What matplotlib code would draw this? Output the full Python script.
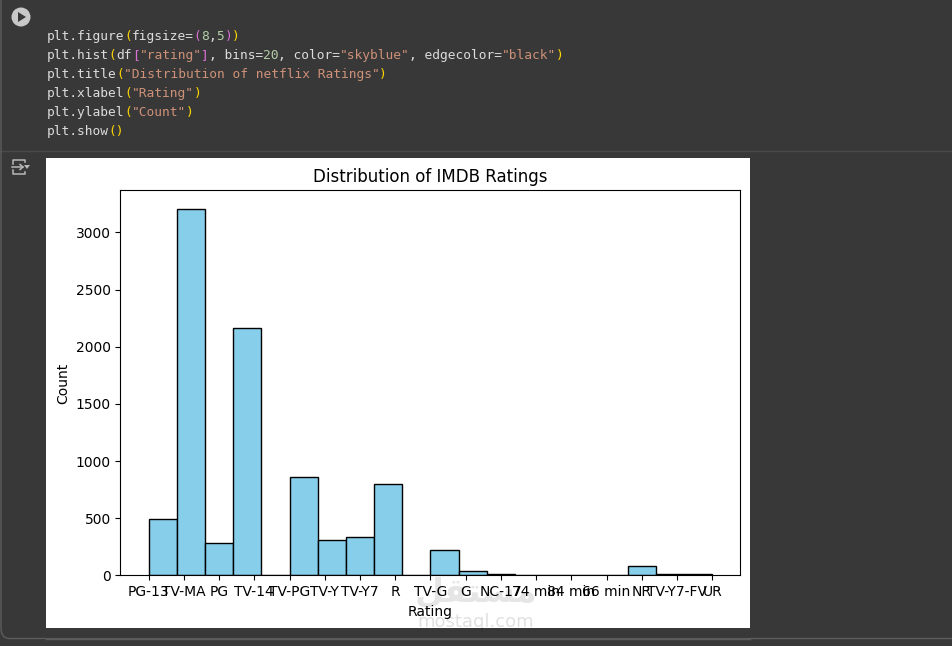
import matplotlib
matplotlib.use("Agg")
import matplotlib.pyplot as plt
from matplotlib.patches import Circle, Polygon, Rectangle

ratings = ['PG-13', 'TV-MA', 'PG', 'TV-14', 'TV-PG', 'TV-Y', 'TV-Y7', 'R', 'TV-G', 'G',
           'NC-17', '74 min', '84 min', '66 min', 'NR', 'TV-Y7-FV', 'UR']
counts = [490, 3207, 287, 2160, 863, 307, 334, 799, 220, 41, 9, 1, 1, 1, 80, 9, 9]

# notebook code cell, split in (text, colour kind)
code_lines = [
    [('plt.figure', 't'), ('(', 'y'), ('figsize=', 't'), ('(', 'p'), ('8', 'n'), (',', 't'), ('5', 'n'), (')', 'p'), (')', 'y')],
    [('plt.hist', 't'), ('(', 'y'), ('df', 't'), ('[', 'p'), ('"rating"', 's'), (']', 'p'), (', bins=', 't'), ('20', 'n'),
     (', color=', 't'), ('"skyblue"', 's'), (', edgecolor=', 't'), ('"black"', 's'), (')', 'y')],
    [('plt.title', 't'), ('(', 'y'), ('"Distribution of netflix Ratings"', 's'), (')', 'y')],
    [('plt.xlabel', 't'), ('(', 'y'), ('"Rating"', 's'), (')', 'y')],
    [('plt.ylabel', 't'), ('(', 'y'), ('"Count"', 's'), (')', 'y')],
    [('plt.show', 't'), ('()', 'y')],
]
code_rows = [40, 59, 78, 96.5, 116, 135]
code_colors = {'t': '#dcdcdc', 'y': '#ffd700', 'p': '#da70d6', 's': '#ce9178', 'n': '#b5cea8'}

W, H = 952, 646
fig = plt.figure(figsize=(W / 100, H / 100), dpi=100, facecolor='#383838')

# page layer in pixel coordinates
page = fig.add_axes([0, 0, 1, 1])
page.set_xlim(0, W)
page.set_ylim(H, 0)
page.axis('off')
page.plot([0, W], [150.5, 150.5], color='#4a4a4a', lw=1)
# cell border with its rounded corner
page.plot([1, 1, 2, 4, 8, W], [0, 630, 634, 637, 638.5, 638.5], color='#5c5c5c', lw=1)
page.add_patch(Rectangle((46, 158), 704, 470, facecolor='white', edgecolor='none'))

# run button
page.add_patch(Circle((21, 17), 9.5, facecolor='#c8c8c8', edgecolor='none'))
page.add_patch(Polygon([[18, 12], [18, 22], [26, 17]], facecolor='#383838', edgecolor='none'))

# output icon
icon = '#b8b8b8'
page.plot([13, 13, 25, 25], [164, 160, 160, 162], color=icon, lw=1.1)
page.plot([13, 13, 25, 25], [170, 174, 174, 172], color=icon, lw=1.1)
page.plot([12, 23], [167, 167], color=icon, lw=1.1)
page.plot([20, 23, 20], [164.5, 167, 169.5], color=icon, lw=1.1)
page.add_patch(Polygon([[24, 165], [30, 165], [27, 169]], facecolor=icon, edgecolor='none'))

char_w = 7.71
for row, tokens in zip(code_rows, code_lines):
    col = 0
    for token, kind in tokens:
        page.text(47 + col * char_w, row, token, family='DejaVu Sans Mono', fontsize=9.25,
                  color=code_colors[kind], va='baseline', ha='left')
        col += len(token)

# the histogram
ax = fig.add_axes([120.45 / W, 1 - 575.4 / H, 620 / W, 385 / H])
positions = list(range(len(ratings)))
ax.hist(positions, bins=20, weights=counts, color='skyblue', edgecolor='black')
ax.set_xticks(positions)
ax.set_xticklabels(ratings)
ax.set_title('Distribution of IMDB Ratings')
ax.set_xlabel('Rating')
ax.set_ylabel('Count')

# site watermark on top
mark = fig.add_axes([0, 0, 1, 1], facecolor='none')
mark.set_xlim(0, W)
mark.set_ylim(H, 0)
mark.axis('off')
mark.text(475.5, 622, 'mostaql.com', fontsize=13, color='black', alpha=0.12, ha='center', va='center')
mark.text(476, 592, '\ufede\ufed8\ufe98\ufeb4\ufee3', family='DejaVu Sans', weight='bold', fontsize=24,
          color='black', alpha=0.1, ha='center', va='center')
mark.add_patch(Rectangle((46, 628), 704, 10, facecolor='#383838', edgecolor='none'))
mark.plot([46, 750], [638.5, 638.5], color='#5c5c5c', lw=1)

fig.savefig('out.png', dpi=100, facecolor=fig.get_facecolor())
